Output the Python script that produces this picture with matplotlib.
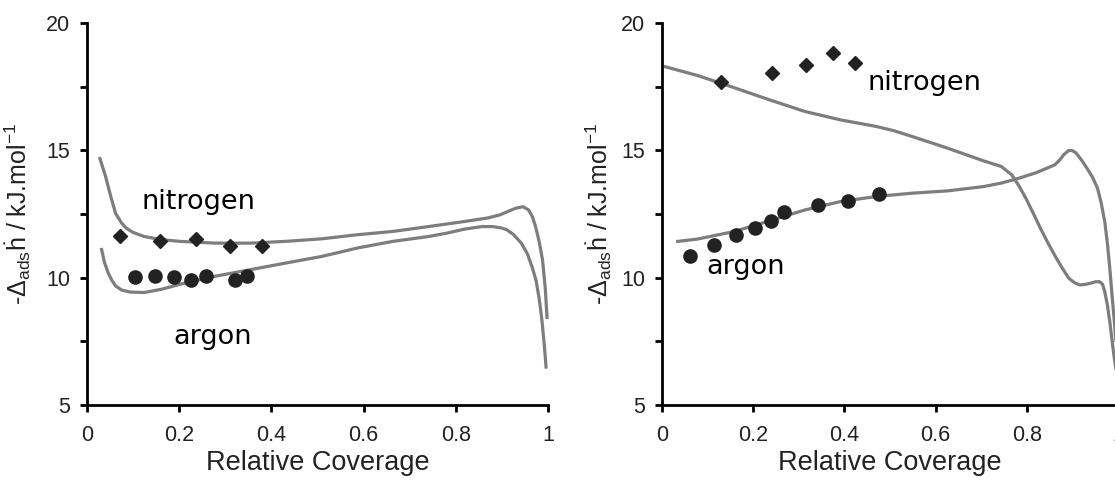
import matplotlib.pyplot as plt

# left panel: measured points
l_n2_x = [0.072, 0.158, 0.237, 0.311, 0.380]
l_n2_y = [11.62, 11.43, 11.52, 11.26, 11.23]
l_ar_x = [0.104, 0.147, 0.188, 0.226, 0.259, 0.320, 0.347]
l_ar_y = [10.03, 10.06, 10.03, 9.90, 10.06, 9.90, 10.06]

# left panel: curves
l_n2c_x = [0.027, 0.040, 0.050, 0.062, 0.075, 0.085, 0.100, 0.124, 0.160, 0.201, 0.278,
           0.355, 0.432, 0.510, 0.587, 0.664, 0.741, 0.819, 0.870, 0.896, 0.915, 0.930,
           0.946, 0.958, 0.966, 0.973, 0.981, 0.988, 0.994, 0.998]
l_n2c_y = [14.74, 14.0, 13.3, 12.53, 12.15, 11.95, 11.78, 11.62, 11.50, 11.43, 11.36,
           11.36, 11.43, 11.53, 11.69, 11.82, 12.01, 12.21, 12.35, 12.47, 12.62, 12.73,
           12.79, 12.66, 12.40, 12.01, 11.40, 10.71, 9.60, 8.38]
l_arc_x = [0.031, 0.038, 0.046, 0.054, 0.062, 0.075, 0.093, 0.124, 0.162, 0.201, 0.278,
           0.355, 0.432, 0.510, 0.587, 0.664, 0.741, 0.780, 0.819, 0.857, 0.880, 0.900,
           0.911, 0.925, 0.942, 0.955, 0.965, 0.974, 0.981, 0.987, 0.992, 0.996]
l_arc_y = [11.17, 10.60, 10.19, 9.90, 9.68, 9.52, 9.44, 9.42, 9.55, 9.74, 10.06,
           10.32, 10.58, 10.84, 11.17, 11.43, 11.62, 11.75, 11.91, 12.01, 12.01, 11.95,
           11.88, 11.70, 11.36, 10.95, 10.45, 9.90, 9.16, 8.30, 7.34, 6.43]

# right panel: measured points
r_n2_x = [0.130, 0.242, 0.316, 0.374, 0.423]
r_n2_y = [17.68, 18.03, 18.36, 18.82, 18.43]
r_ar_x = [0.061, 0.115, 0.162, 0.204, 0.238, 0.268, 0.342, 0.409, 0.475]
r_ar_y = [10.86, 11.27, 11.68, 11.94, 12.24, 12.58, 12.86, 13.02, 13.28]

# right panel: curves
r_n2c_x = [0.004, 0.078, 0.157, 0.235, 0.313, 0.391, 0.470, 0.509, 0.548, 0.626, 0.705,
           0.744, 0.767, 0.783, 0.798, 0.815, 0.830, 0.846, 0.861, 0.877, 0.892, 0.905,
           0.916, 0.928, 0.939, 0.950, 0.959, 0.966, 0.971, 0.977, 0.982, 0.990, 1.0]
r_n2c_y = [18.30, 17.94, 17.47, 16.99, 16.53, 16.20, 15.94, 15.77, 15.55, 15.09, 14.59,
           14.37, 14.04, 13.60, 13.12, 12.50, 11.94, 11.38, 10.89, 10.40, 9.98, 9.80,
           9.72, 9.74, 9.78, 9.84, 9.85, 9.75, 9.45, 8.90, 8.27, 7.10, 5.8]
r_arc_x = [0.031, 0.078, 0.157, 0.235, 0.313, 0.391, 0.470, 0.548, 0.626, 0.705, 0.745,
           0.783, 0.820, 0.861, 0.872, 0.881, 0.892, 0.900, 0.908, 0.920, 0.932, 0.944,
           0.955, 0.963, 0.971, 0.977, 0.982, 0.987, 0.992, 1.0]
r_arc_y = [11.42, 11.52, 11.81, 12.23, 12.66, 12.99, 13.19, 13.32, 13.41, 13.58, 13.72,
           13.91, 14.12, 14.43, 14.62, 14.83, 15.00, 14.99, 14.90, 14.62, 14.30, 13.95,
           13.52, 12.95, 12.20, 11.30, 10.37, 9.30, 8.27, 6.5]

y_ticks = [5, 10, 15, 20]
x_ticks = [0, 0.2, 0.4, 0.6, 0.8, 1]
x_tick_labels = ['0', '0.2', '0.4', '0.6', '0.8', '1']

plt.rcParams['font.family'] = ['Liberation Sans', 'DejaVu Sans']
plt.rcParams['mathtext.fontset'] = 'custom'
plt.rcParams['mathtext.rm'] = 'Liberation Sans'
plt.rcParams['mathtext.it'] = 'Liberation Sans:italic'

fig = plt.figure(figsize=(11.15, 4.8), dpi=100)
ax1 = fig.add_axes([0.078, 0.156, 0.4135, 0.796])
ax2 = fig.add_axes([0.5937, 0.156, 0.409, 0.796])

panels = [
    (ax1, l_n2_x, l_n2_y, l_ar_x, l_ar_y, l_n2c_x, l_n2c_y, l_arc_x, l_arc_y,
     (0.241, 12.99), (0.272, 7.66), -0.118),
    (ax2, r_n2_x, r_n2_y, r_ar_x, r_ar_y, r_n2c_x, r_n2c_y, r_arc_x, r_arc_y,
     (0.575, 17.64), (0.184, 10.44), -0.105),
]

for ax, nx, ny, ax_, ay, ncx, ncy, acx, acy, npos, apos, lab_x in panels:
    ax.plot(ncx, ncy, color='#7d7d7d', lw=2.3, solid_capstyle='butt', clip_on=False, zorder=2)
    ax.plot(acx, acy, color='#7d7d7d', lw=2.3, solid_capstyle='butt', clip_on=False, zorder=2)
    ax.plot(nx, ny, 'D', color='#222222', ms=7.5, zorder=3)
    ax.plot(ax_, ay, 'o', color='#222222', ms=9.5, zorder=3)
    ax.text(npos[0], npos[1], 'nitrogen', fontsize=19.5, family='DejaVu Sans',
            ha='center', va='center')
    ax.text(apos[0], apos[1], 'argon', fontsize=19.5, family='DejaVu Sans',
            ha='center', va='center')

    ax.set_xlim(0, 1)
    ax.set_ylim(5, 20)
    ax.set_xticks(x_ticks)
    ax.set_xticklabels(x_tick_labels)
    ax.set_yticks(y_ticks)
    ax.set_yticks([7.5, 12.5, 17.5], minor=True)
    ax.tick_params(which='both', direction='out', length=5, width=2, labelsize=15.5,
                   labelcolor='#222222')
    ax.tick_params(axis='y', pad=7)
    ax.tick_params(axis='x', pad=9)
    ax.spines['top'].set_visible(False)
    ax.spines['right'].set_visible(False)
    ax.spines['left'].set_linewidth(2)
    ax.spines['bottom'].set_linewidth(2)
    ax.set_xlabel('Relative Coverage', fontsize=19.5, labelpad=3, color='#222222')
    ax.set_ylabel(r'-$\Delta_{\mathrm{ads}}$ḣ / kJ.mol$^{\mathrm{-1}}$', fontsize=18,
                  color='#222222')
    ax.yaxis.set_label_coords(lab_x, 0.5)

fig.savefig('out.png', dpi=100)
